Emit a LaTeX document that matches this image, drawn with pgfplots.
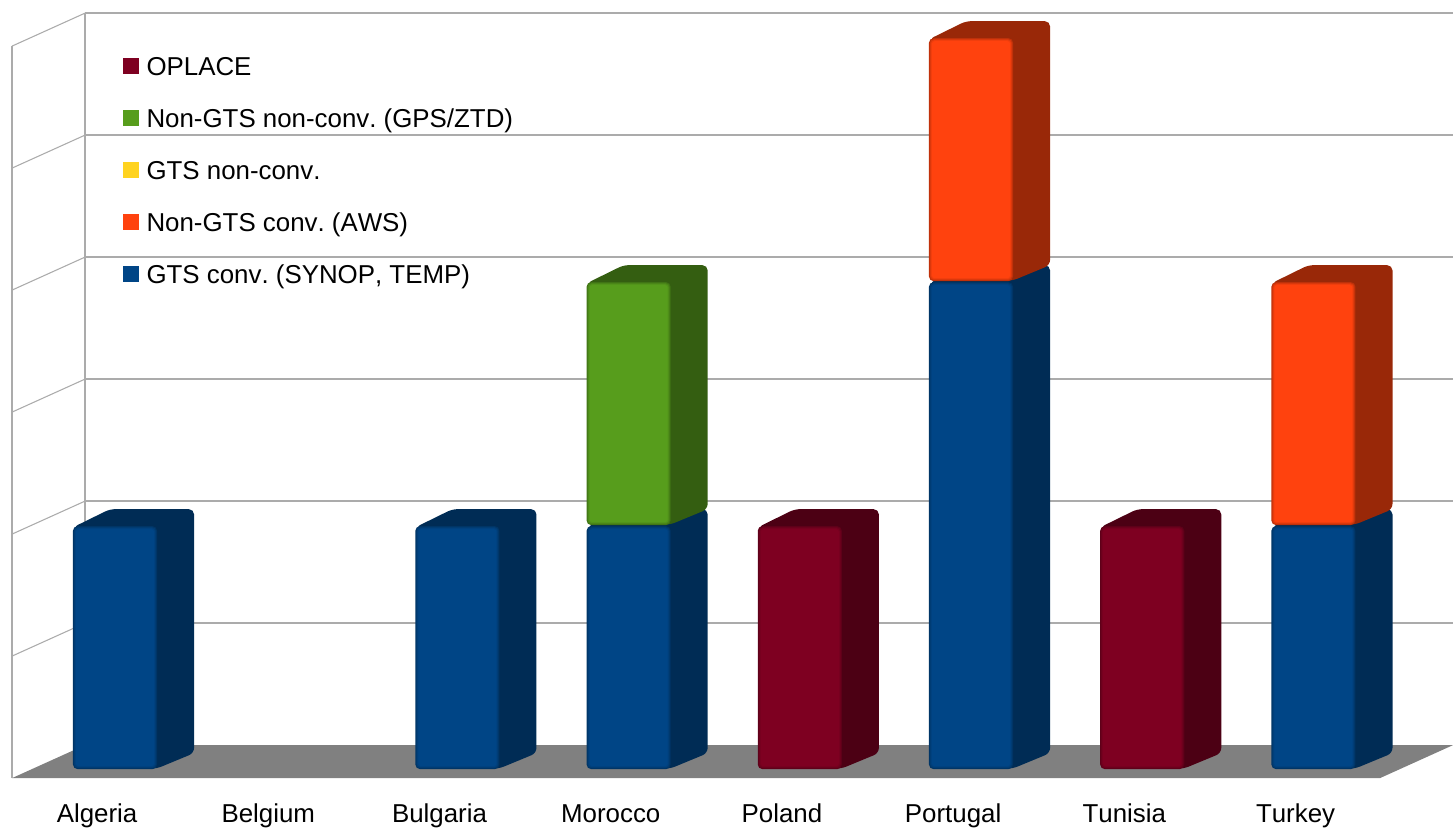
\documentclass[border=0pt]{standalone}
\usepackage{fontspec}
\setmainfont[Kerning=Off]{Liberation Sans}
\usepackage{pgfplots}
\pgfplotsset{compat=1.18}
\frenchspacing

\definecolor{cblue}{HTML}{004586}   \definecolor{dblue}{HTML}{002C55}
\definecolor{corange}{HTML}{FF420E} \definecolor{dorange}{HTML}{992808}
\definecolor{cgreen}{HTML}{579D1C}  \definecolor{dgreen}{HTML}{345E11}
\definecolor{cyellow}{HTML}{FFD320}
\definecolor{cred}{HTML}{7E0021}    \definecolor{dred}{HTML}{4C0014}
\definecolor{wall}{HTML}{ABABAB}

% front face of one block: {category}{from}{to}{colour}{inset}{corner}
\newcommand{\frontface}[6]{%
  \addplot[forget plot,draw=none,fill=#4,rounded corners=#6] coordinates {
    (#1-0.2456+#5*0.00585,#2+0.008+#5*0.0082) (#1+0.2456-#5*0.00585,#2+0.008+#5*0.0082)
    (#1+0.2456-#5*0.00585,#3-#5*0.0082) (#1-0.2456+#5*0.00585,#3-#5*0.0082)} -- cycle;
}
% one stacked block with its receding side and top: {category}{from}{to}{face}{shade}
\newcommand{\block}[5]{%
  \addplot[forget plot,draw=none,fill=#5,rounded corners=4pt] coordinates {
    (#1-0.2456,#3-0.01) (#1-0.2456+0.2164,#3+0.1393) (#1+0.2456+0.2164,#3+0.1393)
    (#1+0.2456+0.2164,#2+0.1393) (#1+0.2426,#2+0.012) (#1-0.1,#2+0.012) (#1-0.1,#3-0.1)} -- cycle;
  \frontface{#1}{#2}{#3}{#4!35!#5}{0}{3.5pt}
  \frontface{#1}{#2}{#3}{#4!62!#5}{1}{3pt}
  \frontface{#1}{#2}{#3}{#4!85!#5}{2}{2.5pt}
  \frontface{#1}{#2}{#3}{#4}{3}{2pt}
}

\begin{document}
\begin{tikzpicture}
\begin{axis}[
  scale only axis,
  width=1089.75pt, height=625.5pt,
  xmin=-0.6717, xmax=7.8154,
  ymin=-0.5246, ymax=6.3115,
  axis line style={draw=none},
  major tick length=0pt,
  ymajorticks=false,
  xtick={0,1,2,3,4,5,6,7},
  xticklabels={Algeria,Belgium,Bulgaria,Morocco,Poland,Portugal,Tunisia,Turkey},
  xticklabel style={font=\fontsize{19.4}{23}\selectfont,anchor=base,xshift=-13.4pt,yshift=9pt},
  legend cell align=left,
  legend image code/.code={\path[draw=none,fill=none] (0pt,0pt) -- (17.5pt,0pt); \fill[#1,draw=none] (0pt,-3.75pt) rectangle (12pt,8.25pt);},
  legend style={
    at={(axis cs:0.0231,5.87)}, anchor=north west, draw=none, fill=none,
    font=\fontsize{19.4}{23}\selectfont, row sep=21pt,
    nodes={inner sep=0pt,text height=14pt,text depth=4pt}
  },
]
% floor
\addplot[forget plot,draw=none,fill=gray] coordinates
  {(-0.6016,-0.0656) (-0.1752,0.2049) (7.8154,0.2049) (7.3890,-0.0656)} -- cycle;
% back wall grid
\addplot[forget plot,wall,line width=1.1pt] coordinates {(-0.1752,1.2049) (7.8154,1.2049)};
\addplot[forget plot,wall,line width=1.1pt] coordinates {(-0.1752,2.2049) (7.8154,2.2049)};
\addplot[forget plot,wall,line width=1.1pt] coordinates {(-0.1752,3.2049) (7.8154,3.2049)};
\addplot[forget plot,wall,line width=1.1pt] coordinates {(-0.1752,4.2049) (7.8154,4.2049)};
\addplot[forget plot,wall,line width=1.1pt] coordinates {(-0.1752,5.2049) (7.8154,5.2049)};
\addplot[forget plot,wall,line width=1.1pt] coordinates {(-0.1752,6.2049) (7.8154,6.2049)};
\addplot[forget plot,wall,line width=1.1pt] coordinates {(-0.1752,0.2049) (-0.1752,6.2049)};
% side wall grid
\addplot[forget plot,wall,line width=0.8pt] coordinates {(-0.6016,-0.0656) (-0.6016,5.9344)};
\addplot[forget plot,wall,line width=0.8pt] coordinates {(-0.6016,0.9344) (-0.1752,1.2049)};
\addplot[forget plot,wall,line width=0.8pt] coordinates {(-0.6016,1.9344) (-0.1752,2.2049)};
\addplot[forget plot,wall,line width=0.8pt] coordinates {(-0.6016,2.9344) (-0.1752,3.2049)};
\addplot[forget plot,wall,line width=0.8pt] coordinates {(-0.6016,3.9344) (-0.1752,4.2049)};
\addplot[forget plot,wall,line width=0.8pt] coordinates {(-0.6016,4.9344) (-0.1752,5.2049)};
\addplot[forget plot,wall,line width=0.8pt] coordinates {(-0.6016,5.9344) (-0.1752,6.2049)};
% stacked blocks, lower segment first
\block{0}{0}{2}{cblue}{dblue}
\block{2}{0}{2}{cblue}{dblue}
\block{3}{0}{2}{cblue}{dblue}
\block{3}{2}{4}{cgreen}{dgreen}
\block{4}{0}{2}{cred}{dred}
\block{5}{0}{4}{cblue}{dblue}
\block{5}{4}{6}{corange}{dorange}
\block{6}{0}{2}{cred}{dred}
\block{7}{0}{2}{cblue}{dblue}
\block{7}{2}{4}{corange}{dorange}
% legend
\addlegendimage{cred}\addlegendentry{OPLACE}
\addlegendimage{cgreen}\addlegendentry{Non-GTS non-conv. (GPS/ZTD)}
\addlegendimage{cyellow}\addlegendentry{GTS non-conv.}
\addlegendimage{corange}\addlegendentry{Non-GTS conv. (AWS)}
\addlegendimage{cblue}\addlegendentry{GTS conv. (SYNOP, TEMP)}
\end{axis}
\end{tikzpicture}
\end{document}
